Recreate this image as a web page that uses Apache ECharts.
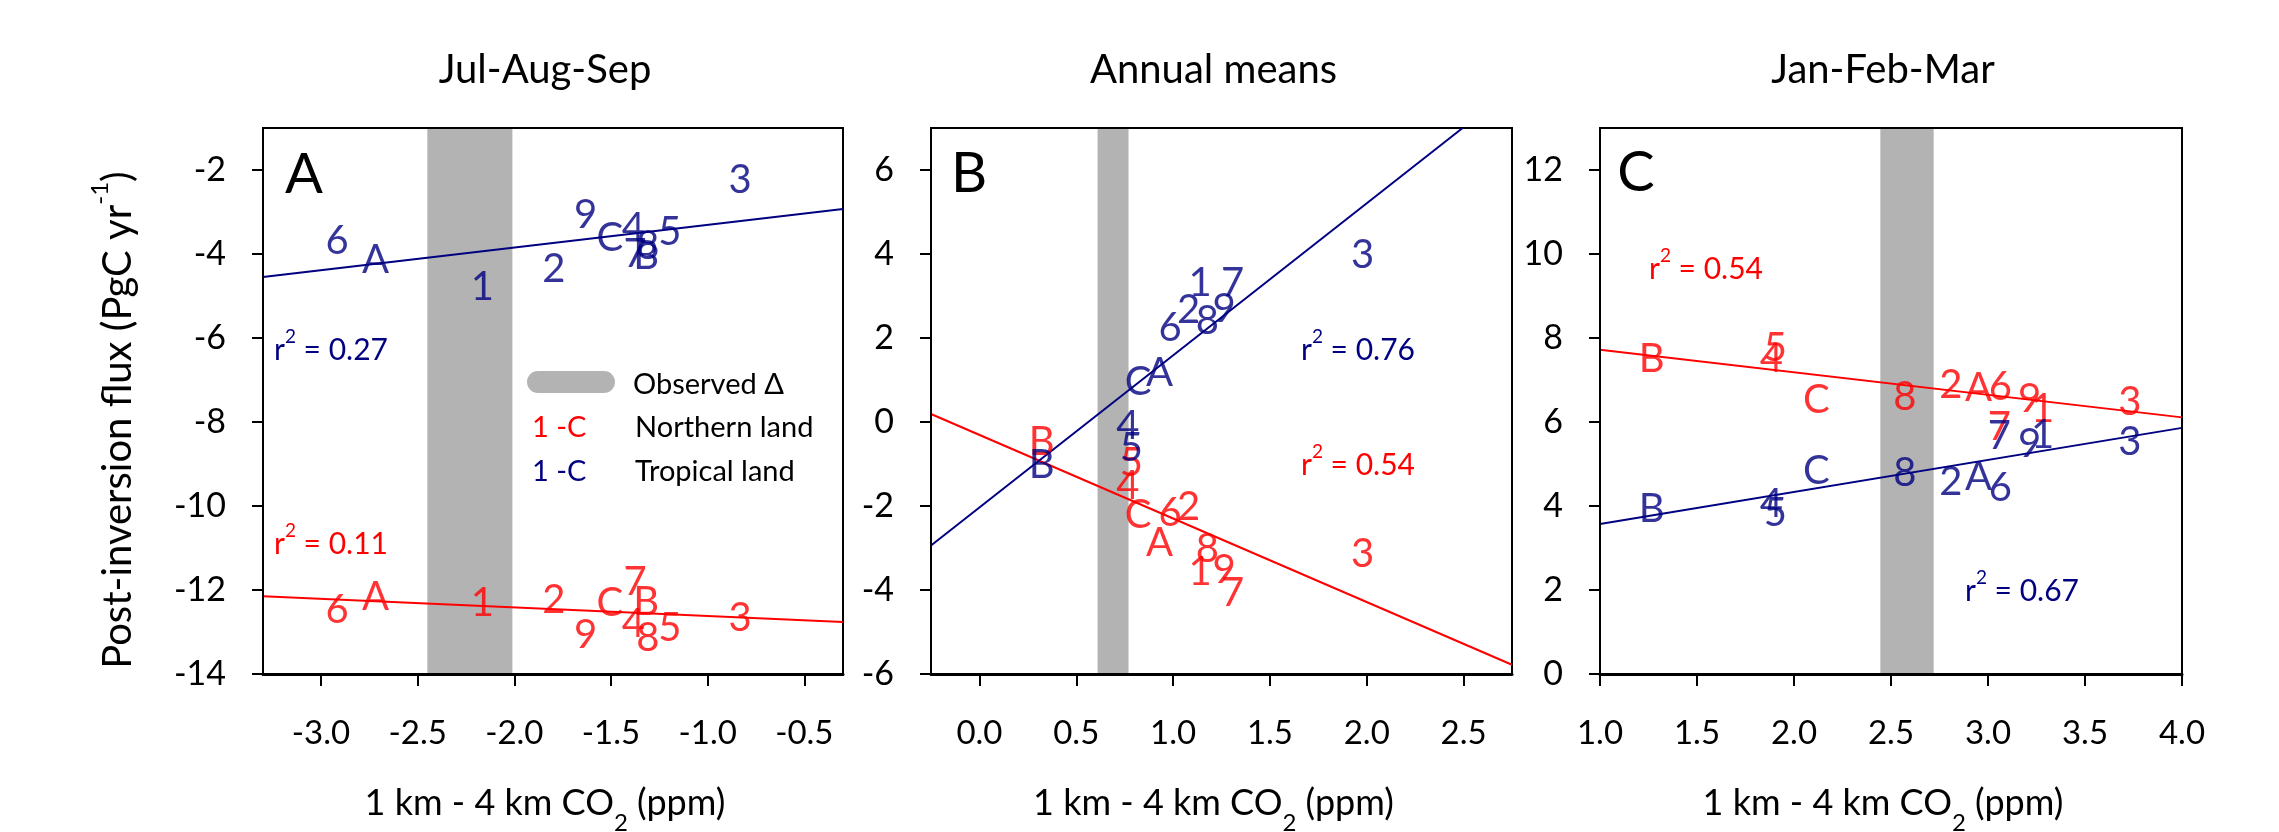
<!DOCTYPE html>
<html>
<head>
<meta charset="utf-8">
<script src="https://cdn.jsdelivr.net/npm/echarts@6/dist/echarts.min.js"></script>
<style>
  html, body { margin: 0; background: #fff; }
  #chart { width: 2279px; height: 832px; }
</style>
</head>
<body>
<div id="chart"></div>
<script>
// model labels, same order in every array below
const modelLabels = ["1", "2", "3", "4", "5", "6", "7", "8", "9", "A", "B", "C"];

// Jul-Aug-Sep
const xJAS = [-2.165, -1.795, -0.832, -1.385, -1.195, -2.917, -1.375, -1.31, -1.632, -2.718, -1.318, -1.506];
const northJAS = [-12.3, -12.25, -12.66, -12.82, -12.9, -12.48, -11.8, -13.15, -13.07, -12.16, -12.28, -12.3];
const tropJAS = [-4.79, -4.37, -2.23, -3.38, -3.47, -3.7, -4.0, -3.8, -3.08, -4.14, -4.06, -3.61];

// Annual means
const xAnn = [1.14, 1.08, 1.979, 0.766, 0.784, 0.984, 1.307, 1.177, 1.264, 0.93, 0.321, 0.82];
const northAnn = [-3.57, -2.03, -3.14, -1.52, -0.98, -2.16, -4.07, -3.03, -3.53, -2.89, -0.48, -2.21];
const tropAnn = [3.3, 2.66, 3.98, -0.1, -0.62, 2.24, 3.3, 2.4, 2.69, 1.16, -1.02, 0.96];

// Jan-Feb-Mar
const xJFM = [3.281, 2.809, 3.731, 1.883, 1.904, 3.064, 3.059, 2.571, 3.215, 2.951, 1.266, 2.115];
const northJFM = [6.31, 6.89, 6.48, 7.5, 7.75, 6.82, 5.89, 6.59, 6.55, 6.8, 7.5, 6.52];
const tropJFM = [5.7, 4.57, 5.52, 4.04, 3.84, 4.43, 5.66, 4.79, 5.48, 4.7, 3.93, 4.84];

// regression line end points
const fitNorthJAS = [[-3.3, -12.15], [-0.3, -12.76]];
const fitTropJAS = [[-3.3, -4.55], [-0.3, -2.93]];
const fitNorthAnn = [[-0.25, 0.19], [2.75, -5.78]];
const fitTropAnn = [[-0.25, -2.94], [2.495, 7.0]];
const fitNorthJFM = [[1, 7.72], [4, 6.11]];
const fitTropJFM = [[1, 3.57], [4, 5.86]];

// observed gradient ranges (grey bands)
const obsJAS = [-2.45, -2.01];
const obsAnn = [0.61, 0.77];
const obsJFM = [2.445, 2.72];

const r2North = [0.11, 0.54, 0.54];
const r2Trop = [0.27, 0.76, 0.67];

const panelTitles = ["Jul-Aug-Sep", "Annual means", "Jan-Feb-Mar"];
const panelLetters = ["A", "B", "C"];

const xMin = [-3.3, -0.25, 1];
const xMax = [-0.3, 2.75, 4];
const yMin = [-14, -6, 0];
const yMax = [-1, 7, 13];
const xTicksJAS = [-3.0, -2.5, -2.0, -1.5, -1.0, -0.5];
const xTicksAnn = [0.0, 0.5, 1.0, 1.5, 2.0, 2.5];
const xTicksJFM = [1.0, 1.5, 2.0, 2.5, 3.0, 3.5, 4.0];
const yTicksJAS = [-14, -12, -10, -8, -6, -4, -2];
const yTicksAnn = [-6, -4, -2, 0, 2, 4, 6];
const yTicksJFM = [0, 2, 4, 6, 8, 10, 12];

const RED = "#ff0000";
const BLUE = "#000080";
const FONT = "Lato";

const gridLeft = [263, 931, 1600];
const gridWidth = [580, 581, 582];
const gridTop = 128;
const gridHeight = 546;

const panels = [
  { x: xJAS, north: northJAS, trop: tropJAS, fitN: fitNorthJAS, fitT: fitTropJAS, obs: obsJAS, xt: xTicksJAS, yt: yTicksJAS },
  { x: xAnn, north: northAnn, trop: tropAnn, fitN: fitNorthAnn, fitT: fitTropAnn, obs: obsAnn, xt: xTicksAnn, yt: yTicksAnn },
  { x: xJFM, north: northJFM, trop: tropJFM, fitN: fitNorthJFM, fitT: fitTropJFM, obs: obsJFM, xt: xTicksJFM, yt: yTicksJFM },
];

function labelPoints(xs, ys) {
  return xs.map((v, k) => ({ name: modelLabels[k], value: [v, ys[k]] }));
}

const grids = [];
const xAxes = [];
const yAxes = [];
const series = [];

panels.forEach((p, i) => {
  grids.push({
    left: gridLeft[i],
    width: gridWidth[i],
    top: gridTop,
    height: gridHeight,
    show: true,
    borderColor: "#000",
    borderWidth: 2,
    z: 2,
  });
  xAxes.push({
    gridIndex: i,
    type: "value",
    min: xMin[i],
    max: xMax[i],
    z: 5,
    axisLine: { show: true, onZero: false, lineStyle: { color: "#000", width: 3 } },
    axisTick: { show: true, length: 12, customValues: p.xt, lineStyle: { color: "#000", width: 2 } },
    axisLabel: {
      customValues: p.xt,
      formatter: (v) => Number(v).toFixed(1),
      fontSize: 33,
      fontFamily: FONT,
      color: "#000",
      margin: 43,
    },
    splitLine: { show: false },
  });
  yAxes.push({
    gridIndex: i,
    type: "value",
    min: yMin[i],
    max: yMax[i],
    z: 5,
    axisLine: { show: true, onZero: false, lineStyle: { color: "#000", width: 2 } },
    axisTick: { show: true, length: 11, customValues: p.yt, lineStyle: { color: "#000", width: 2 } },
    axisLabel: {
      customValues: p.yt,
      fontSize: 34,
      fontFamily: FONT,
      color: "#000",
      margin: 37,
    },
    splitLine: { show: false },
  });

  // grey band
  series.push({
    type: "line",
    xAxisIndex: i,
    yAxisIndex: i,
    data: [],
    z: 1,
    silent: true,
    markArea: {
      silent: true,
      itemStyle: { color: "#b3b3b3" },
      data: [[{ xAxis: p.obs[0] }, { xAxis: p.obs[1] }]],
    },
  });

  // regression lines
  [[p.fitN, RED], [p.fitT, BLUE]].forEach(([d, c]) => {
    series.push({
      type: "line",
      xAxisIndex: i,
      yAxisIndex: i,
      data: d,
      showSymbol: false,
      symbol: "none",
      z: 3,
      lineStyle: { color: c, width: 2 },
    });
  });

  // model labels drawn as text
  [[p.north, RED], [p.trop, BLUE]].forEach(([ys, c]) => {
    series.push({
      type: "scatter",
      xAxisIndex: i,
      yAxisIndex: i,
      data: labelPoints(p.x, ys),
      symbolSize: 2,
      itemStyle: { color: "rgba(0,0,0,0)" },
      z: 4,
      label: {
        show: true,
        position: "inside",
        formatter: "{b}",
        color: c,
        fontSize: 40,
        fontFamily: FONT,
      },
      labelLayout: { hideOverlap: false },
    });
  });
});

const supRich = {
  b: { fontSize: 30, lineHeight: 38, fontFamily: FONT, verticalAlign: "bottom" },
  sup: { fontSize: 19, lineHeight: 22, fontFamily: FONT, verticalAlign: "top" },
};

function r2Text(v) {
  return "{b|r}{sup|2}{b| = " + v.toFixed(2) + "}";
}

const graphics = [];
// panel titles and x axis titles
panelTitles.forEach((t, i) => {
  const cx = gridLeft[i] + gridWidth[i] / 2 - 8;
  graphics.push({
    type: "text", x: cx, y: 70, z: 10,
    style: { text: t, font: "40px " + FONT, fill: "#000", align: "center", verticalAlign: "middle" },
  });
  graphics.push({
    type: "text", x: cx, y: 810, z: 10,
    style: {
      text: "{m|1 km - 4 km CO}{sub|2}{m| (ppm)}",
      align: "center",
      verticalAlign: "middle",
      fill: "#000",
      rich: {
        m: { fontSize: 36, lineHeight: 50, fontFamily: FONT, verticalAlign: "top" },
        sub: { fontSize: 24, lineHeight: 24, fontFamily: FONT, verticalAlign: "bottom" },
      },
    },
  });
});

// panel letters
[[304, 175], [969, 174], [1636, 173]].forEach(([x, y], i) => {
  graphics.push({
    type: "text", x: x, y: y, z: 10,
    style: { text: panelLetters[i], font: "56px " + FONT, fill: "#000", align: "center", verticalAlign: "middle" },
  });
});

// r-squared annotations
const r2TropPos = [[274, 346], [1301, 346], [1965, 587]];
const r2NorthPos = [[274, 540], [1301, 461], [1649, 265]];
[[r2Trop, r2TropPos, BLUE], [r2North, r2NorthPos, RED]].forEach(([vals, pos, c]) => {
  vals.forEach((v, i) => {
    graphics.push({
      type: "text", x: pos[i][0], y: pos[i][1], z: 10,
      style: { text: r2Text(v), fill: c, align: "left", verticalAlign: "middle", rich: supRich },
    });
  });
});

// y axis title
graphics.push({
  type: "text", x: 113, y: 420, rotation: Math.PI / 2, z: 10,
  style: {
    text: "{m|Post-inversion flux (PgC yr}{sup|-1}{m|)}",
    align: "center",
    verticalAlign: "middle",
    fill: "#000",
    rich: {
      m: { fontSize: 40, lineHeight: 50, fontFamily: FONT, verticalAlign: "bottom" },
      sup: { fontSize: 24, lineHeight: 24, fontFamily: FONT, verticalAlign: "top" },
    },
  },
});

// legend in panel A
graphics.push({
  type: "rect", z: 10,
  shape: { x: 527, y: 371, width: 88, height: 22, r: 11 },
  style: { fill: "#b3b3b3" },
});
[
  ["Observed \u0394", 385, "#000", 633],
  ["1 -C", 428, RED, 532],
  ["Northern land", 428, "#000", 635],
  ["1 -C", 472, BLUE, 532],
  ["Tropical land", 472, "#000", 635],
].forEach(([t, y, c, x]) => {
  graphics.push({
    type: "text", x: x, y: y, z: 10,
    style: { text: t, font: "29px " + FONT, fill: c, align: "left", verticalAlign: "middle" },
  });
});

const chart = echarts.init(document.getElementById("chart"));
chart.setOption({
  animation: false,
  backgroundColor: "#fff",
  grid: grids,
  xAxis: xAxes,
  yAxis: yAxes,
  series: series,
  graphic: graphics,
});
</script>
</body>
</html>
